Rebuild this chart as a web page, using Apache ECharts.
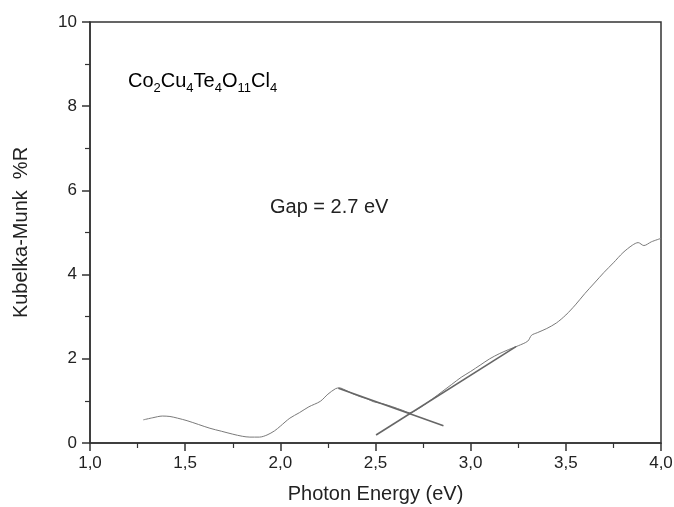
<!DOCTYPE html>
<html>
<head>
<meta charset="utf-8">
<script src="https://cdn.jsdelivr.net/npm/echarts@6/dist/echarts.min.js"></script>
<style>html,body{margin:0;padding:0;background:#fff}#c{width:674px;height:507px}</style>
</head>
<body>
<div id="c"></div>
<script>
var energy = [1.28,1.33,1.38,1.42,1.46,1.51,1.57,1.63,1.69,1.75,1.80,1.84,1.89,1.93,1.97,2.00,2.05,2.10,2.15,2.21,2.25,2.29,2.31,2.34,2.38,2.42,2.46,2.49,2.54,2.59,2.64,2.68,2.72,2.76,2.80,2.85,2.90,2.95,3.00,3.05,3.10,3.15,3.20,3.25,3.30,3.32,3.35,3.40,3.45,3.50,3.55,3.60,3.65,3.70,3.75,3.80,3.85,3.88,3.91,3.95,4.00];
var km = [0.55,0.60,0.64,0.63,0.59,0.53,0.44,0.35,0.28,0.21,0.16,0.14,0.14,0.19,0.29,0.40,0.59,0.72,0.86,0.99,1.16,1.29,1.31,1.26,1.17,1.10,1.04,0.98,0.93,0.86,0.78,0.72,0.80,0.92,1.05,1.22,1.39,1.56,1.70,1.85,2.00,2.12,2.22,2.31,2.42,2.56,2.62,2.72,2.85,3.04,3.28,3.55,3.80,4.05,4.28,4.52,4.70,4.76,4.69,4.78,4.86];
var fallLineE = [2.305, 2.857];
var fallLineK = [1.30, 0.41];
var riseLineE = [2.503, 3.238];
var riseLineK = [0.19, 2.29];
var xTicks = [1.0,1.5,2.0,2.5,3.0,3.5,4.0];
var yTicks = [0,2,4,6,8,10];

function pairs(xs, ys){ return xs.map(function(x,i){ return [x, ys[i]]; }); }

var FONT = 'Liberation Sans, Arial, sans-serif';
var chart = echarts.init(document.getElementById('c'), null, {renderer:'canvas'});
chart.setOption({
  animation: false,
  backgroundColor: '#fff',
  grid: {left: 90, right: 13, top: 22, bottom: 64, containLabel: false, outerBoundsMode: 'none',
    show: true, borderColor: '#333', borderWidth: 1.5},
  xAxis: {
    type: 'value', min: xTicks[0], max: xTicks[xTicks.length-1], interval: 0.5,
    name: 'Photon Energy (eV)', nameLocation: 'middle', nameGap: 41,
    nameTextStyle: {fontFamily: FONT, fontSize: 20, color: '#222'},
    axisLine: {show: true, onZero: false, lineStyle: {color: '#333', width: 1.5}},
    axisTick: {show: true, inside: false, length: 8, lineStyle: {color: '#333', width: 1.5}},
    minorTick: {show: true, splitNumber: 2, length: 5, lineStyle: {color: '#333', width: 1.2}},
    axisLabel: {margin: 12, fontFamily: FONT, fontSize: 17, color: '#222',
      formatter: function(v){ return v.toFixed(1).replace('.', ','); }},
    splitLine: {show: false}
  },
  yAxis: {
    type: 'value', min: yTicks[0], max: yTicks[yTicks.length-1], interval: 2,
    name: 'Kubelka-Munk  %R', nameLocation: 'middle', nameGap: 59, nameRotate: 90,
    nameTextStyle: {fontFamily: FONT, fontSize: 20, color: '#222'},
    axisLine: {show: true, onZero: false, lineStyle: {color: '#333', width: 1.5}},
    axisTick: {show: true, inside: false, length: 8, lineStyle: {color: '#333', width: 1.5}},
    minorTick: {show: true, splitNumber: 2, length: 5, lineStyle: {color: '#333', width: 1.2}},
    axisLabel: {margin: 13, fontFamily: FONT, fontSize: 17, color: '#222'},
    splitLine: {show: false}
  },
  graphic: [
    {type: 'text', left: 128, top: 67, style: {
      text: '{a|Co}{s|2}{a|Cu}{s|4}{a|Te}{s|4}{a|O}{s|11}{a|Cl}{s|4}',
      rich: {
        a: {fontFamily: FONT, fontSize: 20, color: '#222', lineHeight: 24},
        s: {fontFamily: FONT, fontSize: 13, color: '#222', lineHeight: 13, padding: [15,0,0,0]}
      }
    }},
    {type: 'text', left: 270, top: 197, style: {
      text: 'Gap = 2.7 eV', fontFamily: FONT, fontSize: 20, fill: '#222'
    }}
  ],
  series: [
    {type: 'line', data: pairs(energy, km), showSymbol: false, smooth: 0.3,
      lineStyle: {color: '#7a7a7a', width: 1}},
    {type: 'line', data: pairs(fallLineE, fallLineK), showSymbol: false,
      lineStyle: {color: '#666', width: 1.6}},
    {type: 'line', data: pairs(riseLineE, riseLineK), showSymbol: false,
      lineStyle: {color: '#666', width: 1.6}}
  ]
});
</script>
</body>
</html>
